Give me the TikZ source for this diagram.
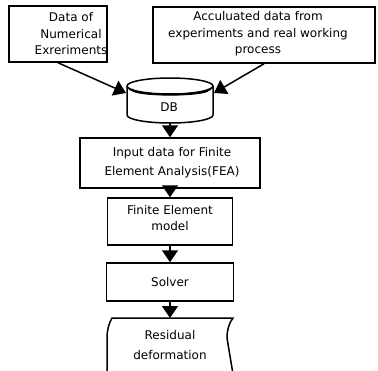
\documentclass[tikz,border=0pt]{standalone}
\usepackage{fontspec}
\setmainfont{DejaVu Sans}
\usetikzlibrary{arrows.meta}
\tikzset{
  box/.style={draw, line width=1.5pt, inner sep=0pt},
  txt/.style={align=center, inner sep=0pt},
  arr/.style={line width=1.5pt, -{Triangle[length=12pt,width=16pt]}},
  shp/.style={line width=1.5pt}
}
\begin{document}
\begin{tikzpicture}[x=1pt,y=-1pt]
\useasboundingbox (0,0) rectangle (378,370);
% top boxes
\node[box, minimum width=98, minimum height=56] (b1) at (58,34) {};
\node[txt, font=\fontsize{12}{16.5}\selectfont] (t1) at (71,34) {Data of\\Numerical\\Exreriments};
\node[box, minimum width=222, minimum height=56] (b2) at (264,35) {};
\node[txt, font=\fontsize{12}{16.5}\selectfont] (t2) at (258,34) {Acculuated data from\\experiments and real working\\process};
% DB cylinder
\draw[shp] (127,86) -- (127,115) arc[start angle=180, end angle=0, x radius=43, y radius=8] -- (213,86);
\draw[shp] (170,86) ellipse[x radius=43, y radius=8];
\draw[shp] (129,88) arc[start angle=180, end angle=0, x radius=41, y radius=6.5];
\draw[shp] (133,89) arc[start angle=190, end angle=-10, x radius=38, y radius=5];
\node[minimum width=86, minimum height=45, inner sep=0pt] (db) at (170,100.5) {};
\node[txt, font=\fontsize{12}{14}\selectfont] (dbt) at (169,107) {DB};
\coordinate (dbL) at (126,93);
\coordinate (dbR) at (214,93);
% process boxes
\node[box, minimum width=180, minimum height=50] (in) at (170,163) {};
\node[txt, font=\fontsize{12}{19}\selectfont] (tin) at (172,162.5) {Input data for Finite\\Element Analysis(FEA)};
\node[box, minimum width=125, minimum height=47] (fe) at (170,221.5) {};
\node[txt, font=\fontsize{12}{16}\selectfont] (tfe) at (170,218) {Finite Element\\model};
\node[box, minimum width=127, minimum height=38, font=\fontsize{12}{14}\selectfont] (sv) at (170,282) {Solver};
% residual shape
\draw[shp] (112,318) -- (233,318)
  .. controls (229,323) and (227,330) .. (227,338)
  -- (233,374) -- (107,374) -- (107,338)
  .. controls (107,330) and (109,323) .. (112,318) -- cycle;
\node[txt, font=\fontsize{12}{20}\selectfont] (res) at (170,345) {Residual\\deformation};
\coordinate (resT) at (170,318);
% connectors
\draw[arr] (b1.south) -- (dbL);
\draw[arr] (b2.south) -- (dbR);
\draw[arr] (db.south) -- (in.north);
\draw[arr] (in.south) -- (fe.north);
\draw[arr] (fe.south) -- (sv.north);
\draw[arr] (sv.south) -- (resT);
\end{tikzpicture}
\end{document}
